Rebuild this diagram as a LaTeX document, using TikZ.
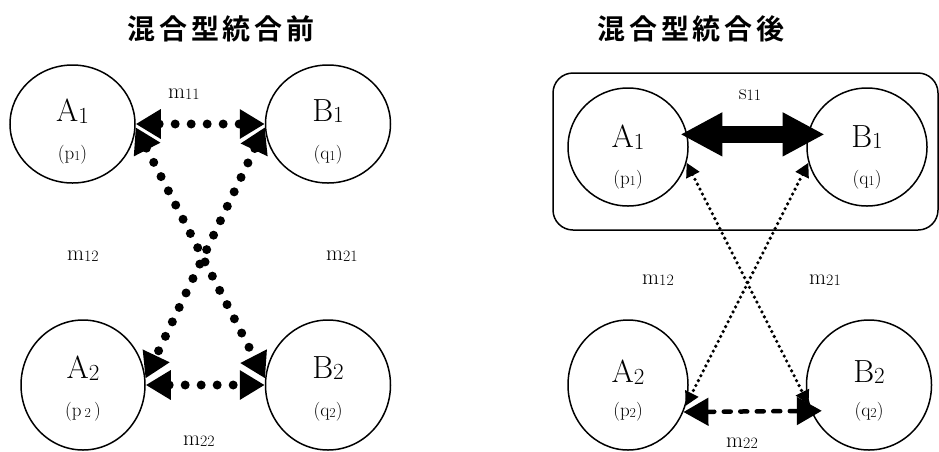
\documentclass[tikz,border=0pt]{standalone}
\usepackage{fontspec}
\usetikzlibrary{arrows.meta,shapes.geometric}
\newfontfamily\cjk[LetterSpace=14]{Noto Sans CJK JP Bold}
\newcommand{\ix}[1]{\raisebox{-0.1ex}{\scalebox{0.72}{#1}}}

\begin{document}
\begin{tikzpicture}[x=1pt,y=-1pt,
    firm/.style={ellipse,draw,line width=1.5pt,minimum width=125pt,minimum height=118pt,inner sep=0pt},
    firmlow/.style={firm,minimum height=130pt},
    bigtxt/.style={font=\fontsize{32}{36}\selectfont,inner sep=0pt},
    smltxt/.style={font=\fontsize{19}{22}\selectfont,inner sep=0pt},
    lnktxt/.style={font=\fontsize{22}{26}\selectfont,inner sep=0pt},
    ttl/.style={font=\fontsize{28}{32}\selectfont\cjk,inner sep=0pt},
    bigdot/.style={line width=9pt,line cap=round,dash pattern=on 0pt off 16pt,
        {Triangle[length=25pt,width=28pt]}-{Triangle[length=25pt,width=28pt]}},
    finedot/.style={line width=3.6pt,line cap=round,dash pattern=on 0pt off 5.5pt,
        {Triangle[length=14pt,width=14pt]}-{Triangle[length=14pt,width=14pt]}},
    dashlink/.style={line width=4.5pt,line cap=round,dash pattern=on 7pt off 9.5pt,
        {Triangle[length=25pt,width=27pt]}-{Triangle[length=25pt,width=27pt]}},
    strong/.style={line width=17pt,
        {Triangle[length=42pt,width=41pt]}-{Triangle[length=42pt,width=41pt]}}]
\useasboundingbox (0,0) rectangle (939,451);

\node[ttl] (pretitle) at (221,29) {混合型統合前};
\node[ttl] (posttitle) at (691,29) {混合型統合後};

\node[firm] (preA1) at (72.5,124) {};
\node[firm] (preB1) at (328,124) {};
\node[firmlow,minimum width=124pt] (preA2) at (83,385) {};
\node[firmlow] (preB2) at (328,385) {};

\node[bigtxt,yshift=13pt] (preA1n) at (preA1) {A\ix{1}};
\node[smltxt,yshift=-31pt] (preA1p) at (preA1) {(p\ix{1})};
\node[bigtxt,yshift=13pt] (preB1n) at (preB1) {B\ix{1}};
\node[smltxt,yshift=-31pt] (preB1p) at (preB1) {(q\ix{1})};
\node[bigtxt,yshift=17pt] (preA2n) at (preA2) {A\ix{2}};
\node[smltxt,yshift=-27pt] (preA2p) at (preA2) {(p\,\ix{2}\,)};
\node[bigtxt,yshift=17pt] (preB2n) at (preB2) {B\ix{2}};
\node[smltxt,yshift=-27pt] (preB2p) at (preB2) {(q\ix{2})};

\draw[bigdot] (preA1.east) -- (preB1.west);
\draw[bigdot] (preA1.-3) -- (preB2.174);
\draw[bigdot] (preB1.183) -- (preA2.6);
\draw[bigdot] (preA2.east) -- (preB2.west);

\node[lnktxt] (prem11) at (184,94) {m\ix{11}};
\node[lnktxt] (prem12) at (83,256) {m\ix{12}};
\node[lnktxt] (prem21) at (342,256) {m\ix{21}};
\node[lnktxt] (prem22) at (199,441) {m\ix{22}};

\node[draw,line width=1.5pt,rounded corners=20pt,minimum width=385pt,minimum height=157pt,inner sep=0pt] (merged) at (745.5,151.5) {};

\node[firm,minimum width=120pt] (postA1) at (628,147) {};
\node[firm,minimum width=120pt] (postB1) at (867,147) {};
\node[firmlow,minimum width=120pt] (postA2) at (628,385) {};
\node[firmlow] (postB2) at (869,385) {};

\node[bigtxt,yshift=10pt] (postA1n) at (postA1) {A\ix{1}};
\node[smltxt,yshift=-33pt] (postA1p) at (postA1) {(p\ix{1})};
\node[bigtxt,yshift=10pt] (postB1n) at (postB1) {B\ix{1}};
\node[smltxt,yshift=-33pt] (postB1p) at (postB1) {(q\ix{1})};
\node[bigtxt,yshift=13pt] (postA2n) at (postA2) {A\ix{2}};
\node[smltxt,yshift=-27pt] (postA2p) at (postA2) {(p\ix{2})};
\node[bigtxt,yshift=13pt] (postB2n) at (postB2) {B\ix{2}};
\node[smltxt,yshift=-27pt] (postB2p) at (postB2) {(q\ix{2})};

\draw[strong,shorten <=-7pt,shorten >=-17pt] (postA1.12) -- (postB1.168);
\draw[finedot] (postA1.-15) -- (postB2.198);
\draw[finedot] (postB1.195) -- (postA2.-20);
\draw[dashlink,shorten >=-11pt] (postA2.-26) -- (postB2.204);

\node[lnktxt] (posts11) at (750,95) {s\ix{11}};
\node[lnktxt] (postm12) at (658,280) {m\ix{12}};
\node[lnktxt] (postm21) at (825,280) {m\ix{21}};
\node[lnktxt] (postm22) at (742,443) {m\ix{22}};
\end{tikzpicture}
\end{document}
